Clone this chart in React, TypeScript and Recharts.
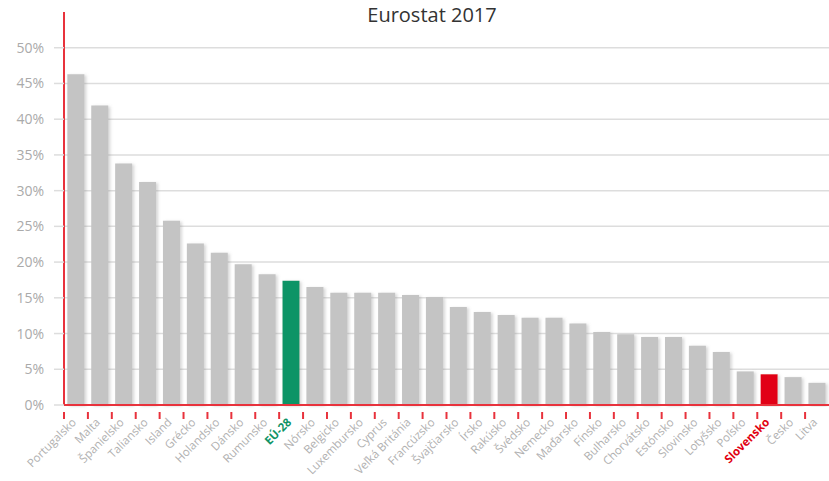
import React from "react";
import { BarChart, Bar, XAxis, YAxis, CartesianGrid, Cell } from "recharts";

// countries in chart order
const countries = [
  "Portugalsko", "Malta", "Španielsko", "Taliansko", "Island", "Grécko",
  "Holandsko", "Dánsko", "Rumunsko", "EÚ-28", "Nórsko", "Belgicko",
  "Luxembursko", "Cyprus", "Veľká Británia", "Francúzsko", "Švajčiarsko",
  "Írsko", "Rakúsko", "Švédsko", "Nemecko", "Maďarsko", "Fínsko",
  "Bulharsko", "Chorvátsko", "Estónsko", "Slovinsko", "Lotyšsko", "Poľsko",
  "Slovensko", "Česko", "Litva",
];

// share in %
const shares = [
  46.3, 41.9, 33.8, 31.2, 25.8, 22.6, 21.3, 19.7, 18.3, 17.4, 16.5, 15.7,
  15.7, 15.7, 15.4, 15.1, 13.7, 13.0, 12.6, 12.2, 12.2, 11.4, 10.2, 9.9,
  9.5, 9.5, 8.3, 7.4, 4.7, 4.3, 3.9, 3.1,
];

const yTicks = [0, 5, 10, 15, 20, 25, 30, 35, 40, 45, 50];

const euLabel = "EÚ-28";
const homeLabel = "Slovensko";

const data = countries.map((name, i) => ({ name, share: shares[i] }));

const W = 829;
const H = 481;
const LEFT = 64;
const RED = "#e8323c";
const GREEN = "#0f9466";
const BAR_RED = "#e10012";
const GREY = "#c4c4c4";
const FONT = "'Open Sans', 'Noto Sans', sans-serif";

const bandW = (W - LEFT) / countries.length;

const labelColor = (name: string) =>
  name === euLabel ? GREEN : name === homeLabel ? BAR_RED : "#b0b0b0";

const CountryTick = ({ x, y, payload }: any) => {
  const name = payload.value;
  const special = name === euLabel || name === homeLabel;
  const bx = x - bandW / 2;
  const tx = x + 1;
  const ty = y + 10;
  return (
    <g>
      <line x1={bx} x2={bx} y1={y - 1} y2={y + 6} stroke={RED} strokeWidth={2} />
      <text
        x={tx}
        y={ty}
        textAnchor="end"
        fontSize={11.5}
        fontFamily={FONT}
        fontWeight={special ? 700 : 400}
        fill={labelColor(name)}
        transform={`rotate(-45, ${tx}, ${ty})`}
      >
        {name}
      </text>
    </g>
  );
};

const App = () => {
  return (
    <div style={{ position: "absolute", left: 0, top: 0, width: W, height: H, background: "#fff" }}>
      <svg width={0} height={0} style={{ position: "absolute" }}>
        <defs>
          <filter id="barShadow" x="-20%" y="-5%" width="150%" height="110%">
            <feDropShadow dx={2} dy={1} stdDeviation={1.5} floodColor="#888" floodOpacity={0.35} />
          </filter>
        </defs>
      </svg>
      <svg
        width={W}
        height={40}
        style={{ position: "absolute", left: 0, top: 0 }}
      >
        <text x={432} y={22} textAnchor="middle" fontSize={20} fontFamily={FONT} fill="#333">
          Eurostat 2017
        </text>
      </svg>
      <BarChart
        width={W}
        height={H}
        data={data}
        margin={{ top: 12, right: 0, bottom: 0, left: 0 }}
        barCategoryGap="14%"
      >
        <CartesianGrid vertical={false} stroke="#dddddd" strokeWidth={1.5} syncWithTicks />
        <XAxis
          dataKey="name"
          interval={0}
          height={76}
          axisLine={{ stroke: RED, strokeWidth: 2 }}
          tickLine={false}
          tick={<CountryTick />}
        />
        <YAxis
          domain={[0, 55]}
          ticks={yTicks}
          width={LEFT}
          axisLine={{ stroke: RED, strokeWidth: 2 }}
          tickLine={{ stroke: "#dddddd", strokeWidth: 1.5 }}
          tickSize={10}
          tickMargin={10}
          tickFormatter={(v: number) => `${v}%`}
          tick={{ fill: "#aaaaaa", fontSize: 14, fontFamily: FONT }}
        />
        <Bar dataKey="share" isAnimationActive={false}>
          {data.map((d) => (
            <Cell
              key={d.name}
              filter="url(#barShadow)"
              fill={d.name === euLabel ? GREEN : d.name === homeLabel ? BAR_RED : GREY}
            />
          ))}
        </Bar>
      </BarChart>
    </div>
  );
};

export default App;
